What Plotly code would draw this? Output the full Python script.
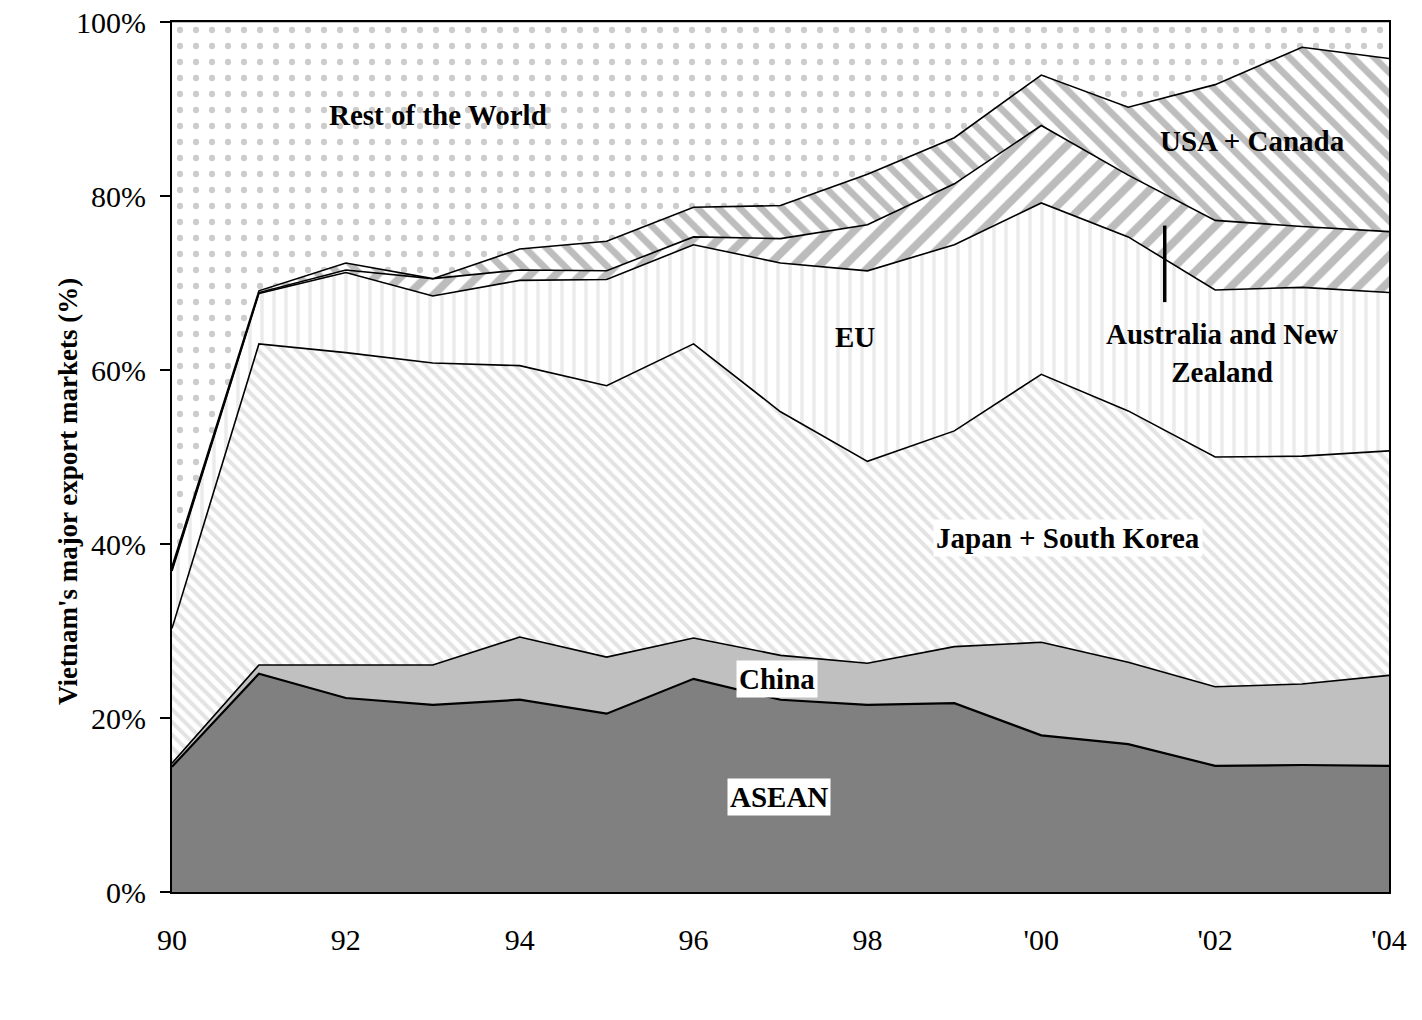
import plotly.graph_objects as go

years = [1990, 1991, 1992, 1993, 1994, 1995, 1996, 1997, 1998, 1999, 2000, 2001, 2002, 2003, 2004]
tick_vals = [1990, 1992, 1994, 1996, 1998, 2000, 2002, 2004]
tick_text = ["90", "92", "94", "96", "98", "'00", "'02", "'04"]

asean = [14.4, 25.1, 22.3, 21.5, 22.1, 20.5, 24.5, 22.1, 21.5, 21.7, 18.0, 17.0, 14.5, 14.6, 14.5]
china = [0.4, 1.0, 3.8, 4.6, 7.2, 6.5, 4.7, 5.1, 4.8, 6.5, 10.7, 9.4, 9.1, 9.3, 10.4]
japan_korea = [15.5, 36.9, 35.9, 34.7, 31.2, 31.2, 33.8, 28.0, 23.2, 24.8, 30.8, 28.9, 26.4, 26.2, 25.8]
eu = [6.6, 5.8, 9.2, 7.7, 9.8, 12.2, 11.4, 17.1, 21.9, 21.4, 19.7, 20.0, 19.2, 19.4, 18.2]
aus_nz = [0.2, 0.1, 0.3, 2.0, 1.2, 1.0, 0.9, 2.8, 5.3, 7.0, 8.9, 7.1, 8.0, 7.0, 7.0]
usa_canada = [0.3, 0.2, 0.8, 0.0, 2.4, 3.4, 3.4, 3.8, 5.8, 5.3, 5.8, 7.8, 15.6, 20.6, 19.9]
rest_world = [62.6, 30.9, 27.7, 29.5, 26.1, 25.2, 21.3, 21.1, 17.5, 13.3, 6.1, 9.8, 7.2, 2.9, 4.2]

SERIF = "Liberation Serif"

series = [
    ("ASEAN", asean, dict(fillcolor="#808080"), 2.2),
    ("China", china, dict(fillcolor="#c0c0c0"), 1.6),
    ("Japan + South Korea", japan_korea,
     dict(fillpattern=dict(shape="\\", size=9, solidity=0.45, fgcolor="#c8c8c8", bgcolor="white")), 1.6),
    ("EU", eu,
     dict(fillpattern=dict(shape="|", size=12, solidity=0.3, fgcolor="#d8d8d8", bgcolor="white")), 1.6),
    ("Australia and New Zealand", aus_nz,
     dict(fillpattern=dict(shape="/", size=18, solidity=0.45, fgcolor="#7a7a7a", bgcolor="white")), 1.6),
    ("USA + Canada", usa_canada,
     dict(fillpattern=dict(shape="\\", size=15, solidity=0.45, fgcolor="#7c7c7c", bgcolor="white")), 1.6),
    ("Rest of the World", rest_world,
     dict(fillpattern=dict(shape=".", size=16, solidity=0.12, fgcolor="#9a9a9a", bgcolor="white")), 0.5),
]

fig = go.Figure()
for name, vals, fill, lw in series:
    fig.add_trace(go.Scatter(
        x=years, y=vals, name=name, mode="lines", stackgroup="one",
        line=dict(color="black", width=lw), **fill,
    ))

ann_font = dict(family=SERIF, size=29, color="black")
labels = [
    ("Rest of the World", 1993.06, 89.3, None),
    ("USA + Canada", 2002.43, 86.3, None),
    ("EU", 1997.86, 63.8, None),
    ("Australia and New<br>Zealand", 2002.08, 62.0, None),
    ("Japan + South Korea", 2000.31, 40.7, "white"),
    ("China", 1996.96, 24.5, "white"),
    ("ASEAN", 1996.98, 10.9, "white"),
]
for text, x, y, bg in labels:
    fig.add_annotation(
        x=x, y=y, xref="x", yref="y", text="<b>" + text + "</b>", showarrow=False,
        font=ann_font, bgcolor=bg if bg else "rgba(0,0,0,0)", borderpad=2,
    )

fig.add_shape(type="line", xref="x", yref="y", x0=2001.42, x1=2001.42, y0=67.8, y1=76.6,
              line=dict(color="black", width=3.5))

fig.add_annotation(
    x=-0.1, y=0.46, xref="paper", yref="paper", textangle=-90,
    text="<b>Vietnam's major export markets (%)</b>", showarrow=False,
    font=dict(family=SERIF, size=27, color="black"),
)

fig.update_layout(
    width=1422, height=1020,
    margin=dict(l=172, r=33, t=22, b=128, autoexpand=False),
    paper_bgcolor="white", plot_bgcolor="white",
    showlegend=False,
    font=dict(family=SERIF, size=30, color="black"),
)
fig.update_xaxes(
    range=[1990, 2004], tickvals=tick_vals, ticktext=tick_text,
    showgrid=False, zeroline=False, showline=True, linecolor="black", linewidth=2,
    mirror=True, ticks="", ticklabelstandoff=20, automargin=False,
    tickfont=dict(family=SERIF, size=30),
)
fig.update_yaxes(
    range=[0, 100], tickvals=[0, 20, 40, 60, 80, 100],
    ticktext=["0%", "20%", "40%", "60%", "80%", "100%"],
    showgrid=False, zeroline=False, showline=True, linecolor="black", linewidth=2,
    mirror=True, ticks="outside", ticklen=10, tickwidth=1.5, tickcolor="black",
    ticklabelstandoff=8, automargin=False,
    tickfont=dict(family=SERIF, size=30),
)

fig.write_html("out.html")
